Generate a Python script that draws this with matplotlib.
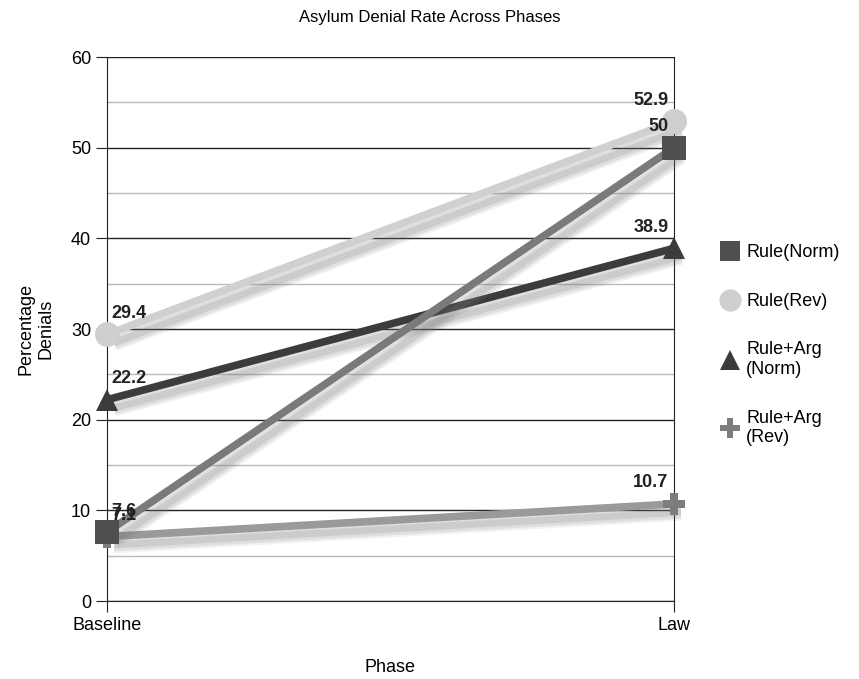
import matplotlib
matplotlib.use('Agg')
import matplotlib.pyplot as plt
import matplotlib.patheffects as pe
from matplotlib.lines import Line2D

phases = ['Baseline', 'Law']
rule_norm = [7.6, 50]
rule_rev = [29.4, 52.9]
rulearg_norm = [22.2, 38.9]
rulearg_rev = [7.1, 10.7]

# name, values, marker, line colour, marker colour, marker size, layer
series = [
    ('Rule(Norm)', rule_norm, 's', '#7a7a7a', '#4f4f4f', 17, 4),
    ('Rule(Rev)', rule_rev, 'o', '#d0d0d0', '#cfcfcf', 18, 1),
    ('Rule+Arg\n(Norm)', rulearg_norm, '^', '#3c3c3c', '#3c3c3c', 16, 3),
    ('Rule+Arg\n(Rev)', rulearg_rev, 'P', '#9a9a9a', '#7d7d7d', 16, 2),
]

plt.rcParams['font.family'] = 'Liberation Sans'
fig = plt.figure(figsize=(8.59, 6.79), dpi=100)
ax = fig.add_axes([107/859, 78/679, (674-107)/859, (601-57)/679])

# soft drop shadow: a few faint offset copies
shadow = [pe.SimpleLineShadow(offset=(5, -6), shadow_color='#777777', alpha=0.10, linewidth=12),
          pe.SimpleLineShadow(offset=(5, -6), shadow_color='#777777', alpha=0.14, linewidth=9),
          pe.SimpleLineShadow(offset=(5, -6), shadow_color='#777777', alpha=0.18, linewidth=5),
          pe.Normal()]

xs = [0, 1]
handles = []
for name, vals, mk, lc, mc, ms, z in series:
    ax.plot(xs, vals, color=lc, lw=5.5, solid_capstyle='butt',
            path_effects=shadow, zorder=3 + z * 0.1, clip_on=False)
    ax.plot(xs, vals, ls='none', marker=mk, color=mc, ms=ms,
            markeredgewidth=0, zorder=4 + z * 0.1, clip_on=False)
    handles.append(Line2D([], [], color=lc, lw=0, marker=mk, markerfacecolor=mc,
                          markeredgewidth=0, ms=ms - 2, label=name))

# value labels
for vals in [rule_norm, rule_rev, rulearg_norm, rulearg_rev]:
    ax.annotate(f'{vals[0]:g}', (0, vals[0]), xytext=(3, 9), textcoords='offset points',
                ha='left', va='bottom', fontsize=13, fontweight='bold', color='#222222',
                zorder=5)
    ax.annotate(f'{vals[1]:g}', (1, vals[1]), xytext=(-4, 9), textcoords='offset points',
                ha='right', va='bottom', fontsize=13, fontweight='bold', color='#222222',
                zorder=5)

ax.set_xlim(0, 1)
ax.set_ylim(0, 60)
ax.set_xticks(xs)
ax.set_xticklabels(phases, fontsize=13)
ax.set_yticks(range(0, 61, 10))
ax.set_yticks(range(5, 60, 10), minor=True)
ax.tick_params(axis='y', labelsize=13, length=8, color='#222222')
ax.tick_params(axis='y', which='minor', length=0)
ax.tick_params(axis='x', length=8, color='#222222')
ax.grid(True, axis='y', which='major', color='#222222', lw=1)
ax.grid(True, axis='y', which='minor', color='#bbbbbb', lw=1)
ax.set_axisbelow(True)
ax.spines['top'].set_visible(False)
for s in ['left', 'right', 'bottom']:
    ax.spines[s].set_color('#222222')

ax.set_xlabel('Phase', fontsize=13, labelpad=18)
ax.set_ylabel('Percentage\nDenials', fontsize=13, labelpad=12, multialignment='center')
fig.suptitle('Asylum Denial Rate Across Phases', fontsize=12, y=0.985)

fig.legend(handles=handles, loc='upper left', bbox_to_anchor=(703/859, 1 - 228/679),
           frameon=False, fontsize=13, handlelength=1.2, handletextpad=0.3,
           labelspacing=1.75)

fig.savefig('out.png', dpi=100)
